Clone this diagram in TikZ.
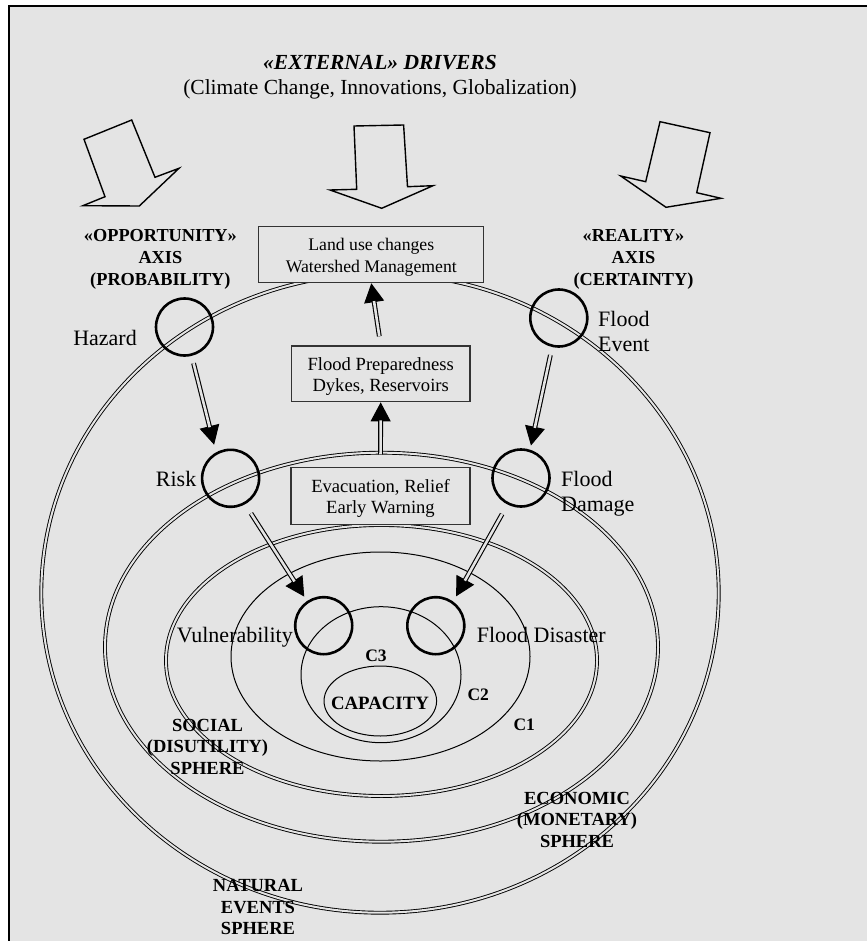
\documentclass[tikz,border=0pt]{standalone}
\usepackage{fontspec}
\setmainfont{Liberation Serif}
\usetikzlibrary{arrows.meta}
\definecolor{bg}{RGB}{228,228,228}
\newcommand{\ctrlines}[1]{\vtop{\halign{\hfil##\hfil\cr#1\crcr}}}
\newcommand{\leftlines}[1]{\vtop{\halign{##\hfil\cr#1\crcr}}}
\newcommand{\boxtext}[1]{\raisebox{-2.7pt}[\height][\depth]{\ctrlines{#1}}}
\newcommand{\darrow}[5]{%
  \draw[tipline, shorten <=#3pt, shorten >=#4pt] (#1) -- (#2);
  \draw[shaftline, shorten <=#3pt, shorten >=#5pt] (#1) -- (#2);}
\tikzset{
  circ/.style={circle, draw, line width=2.6pt, minimum size=57pt, inner sep=0pt, outer sep=0pt},
  infobox/.style={draw=black!80, line width=1.2pt, fill=bg, inner sep=0pt},
  lbl/.style={font=\fontsize{22}{25.7}\selectfont, inner sep=0pt},
  axislbl/.style={font=\fontsize{18.3}{21.7}\selectfont\bfseries, inner sep=0pt, anchor=base},
  spherelbl/.style={font=\fontsize{18.5}{21.5}\selectfont\bfseries, inner sep=0pt, anchor=base},
  clbl/.style={font=\fontsize{17.5}{20}\selectfont\bfseries, inner sep=0pt, anchor=base},
  dblline/.style={line width=0.9pt, double=bg, double distance=2pt},
  thinline/.style={line width=1pt},
  bigarrow/.style={line width=1.4pt, line join=miter},
  tipline/.style={line width=1pt, -{Triangle[length=19pt,width=20pt]}},
  shaftline/.style={line width=1.1pt, double=bg, double distance=2.6pt},
}
\begin{document}
\begin{tikzpicture}[x=1pt, y=-1pt]
\useasboundingbox (0,0) rectangle (867,941);
\fill[white] (0,0) rectangle (867,941);
\fill[bg] (8.7,5.7) rectangle (867,941);
\draw[line width=2pt] (8.7,941) -- (8.7,5.7) -- (867,5.7);

% title
\node[font=\fontsize{21.5}{25}\selectfont\bfseries\itshape, anchor=base, inner sep=0pt] (title) at (380,70) {«EXTERNAL» DRIVERS};
\node[font=\fontsize{21.5}{25}\selectfont, anchor=base, inner sep=0pt] (subtitle) at (380,95) {(Climate Change, Innovations, Globalization)};

% external driver arrows
\draw[bigarrow] (84,139.3) -- (131.7,120) -- (155,177.3) -- (179,168.3) -- (139.3,206) -- (82.9,205.7) -- (105,196.7) -- cycle;
\draw[bigarrow] (354,126) -- (403.6,125) -- (407.5,186.7) -- (433,185.7) -- (381.7,208.3) -- (330,190) -- (356.7,189.3) -- cycle;
\draw[bigarrow] (660,121.7) -- (710,132.7) -- (696.7,192.7) -- (721,198.3) -- (666,207.3) -- (620.7,176) -- (645.7,181.7) -- cycle;

% spheres
\draw[dblline] (380,593.3) ellipse [x radius=338.7pt, y radius=319.4pt];
\draw[dblline] (381.5,647.2) ellipse [x radius=276.5pt, y radius=194.5pt];
\draw[dblline] (381.5,660.5) ellipse [x radius=215.5pt, y radius=135.5pt];
\draw[thinline] (380.5,656.5) ellipse [x radius=149.5pt, y radius=104.5pt];
\draw[thinline] (381,674.7) ellipse [x radius=80pt, y radius=68pt];
\draw[thinline] (380.3,701) ellipse [x radius=56.3pt, y radius=35pt];

% boxes
\node[infobox, minimum width=225pt, minimum height=56pt, font=\fontsize{17.7}{21.6}\selectfont] (land) at (371.3,254.7) {\boxtext{Land use changes\cr Watershed Management}};
\node[infobox, minimum width=178.6pt, minimum height=55.7pt, font=\fontsize{18.6}{21}\selectfont] (prep) at (380.7,373.9) {\boxtext{Flood Preparedness\cr Dykes, Reservoirs}};
\node[infobox, minimum width=179pt, minimum height=56.6pt, font=\fontsize{18.6}{21}\selectfont] (evac) at (380.5,496) {\boxtext{Evacuation, Relief\cr Early Warning}};

% circles
\node[circ] (hazard) at (184.5,327) {};
\node[circ] (fevent) at (558.8,318) {};
\node[circ] (risk) at (230.6,478.3) {};
\node[circ] (fdamage) at (521,478) {};
\node[circ] (vuln) at (323.7,625.7) {};
\node[circ] (disaster) at (435.8,625.7) {};

% arrows
\darrow{hazard.-76}{risk.120}{8.9}{9.2}{27.2}
\darrow{fevent.-103}{fdamage.72}{9.5}{5.5}{23.5}
\darrow{risk.-61.5}{vuln.124}{12.1}{6.5}{24.5}
\darrow{fdamage.-117.8}{disaster.54.2}{12.2}{7.2}{25.2}
\darrow{prep.north}{land.south}{9.3}{0}{18}
\darrow{evac.north}{prep.south}{12.7}{0}{18}

% axis labels
\node[axislbl] (opp) at (160.4,241.7) {\ctrlines{«OPPORTUNITY»\cr AXIS\cr (PROBABILITY)}};
\node[axislbl] (real) at (633.5,241.7) {\ctrlines{«REALITY»\cr AXIS\cr (CERTAINTY)}};

% circle labels
\node[lbl, anchor=base east] (hazardlbl) at (137,345) {Hazard};
\node[lbl, anchor=base east] (risklbl) at (196.5,486.5) {Risk};
\node[lbl, anchor=base west] (feventlbl) at (598,326) {\leftlines{Flood\cr Event}};
\node[lbl, anchor=base west] (fdamagelbl) at (561,486) {\leftlines{Flood\cr Damage}};
\node[lbl, anchor=base east] (vulnlbl) at (293,642) {Vulnerability};
\node[lbl, anchor=base west] (disasterlbl) at (476.6,642) {Flood Disaster};

% capacity levels
\node[clbl] (c3) at (376,661.7) {C3};
\node[clbl] (c2) at (478.3,700) {C2};
\node[clbl] (c1) at (524.2,730.5) {C1};
\node[font=\fontsize{18.8}{22}\selectfont\bfseries, inner sep=0pt, anchor=base] (capacity) at (380,709.5) {CAPACITY};

% sphere labels
\node[spherelbl] (social) at (207.5,731) {\ctrlines{SOCIAL\cr (DISUTILITY)\cr SPHERE}};
\node[spherelbl] (economic) at (577,804) {\ctrlines{ECONOMIC\cr (MONETARY)\cr SPHERE}};
\node[spherelbl] (natural) at (258,891.5) {\ctrlines{NATURAL\cr EVENTS\cr SPHERE}};
\end{tikzpicture}
\end{document}
